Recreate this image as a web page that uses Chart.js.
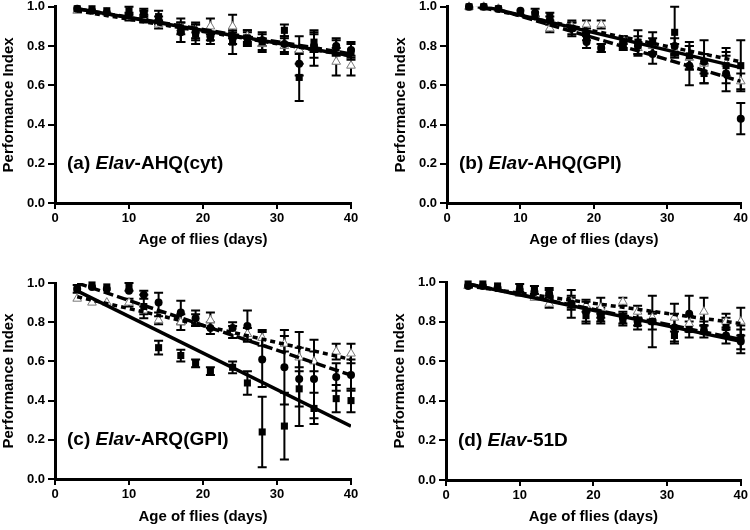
<!DOCTYPE html>
<html>
<head>
<meta charset="utf-8">
<script src="https://cdn.jsdelivr.net/npm/chart.js@4"></script>
<style>
  body { margin: 0; background: #fff; overflow: hidden; }
  #wrap { position: relative; width: 750px; height: 530px; }
  #wrap canvas { position: absolute; }
</style>
</head>
<body>
<div id="wrap">
  <canvas id="pa" width="375" height="264" style="left:0px;top:-4px"></canvas>
  <canvas id="pb" width="358" height="264" style="left:392px;top:-4px"></canvas>
  <canvas id="pc" width="375" height="266" style="left:0px;top:264px"></canvas>
  <canvas id="pd" width="359" height="266" style="left:391px;top:264px"></canvas>
</div>
<script>
// age of flies (days), same for all panels
var days = [3, 5, 7, 10, 12, 14, 17, 19, 21, 24, 26, 28, 31, 33, 35, 38, 40];

// (a) Elav-AHQ(cyt)
var sqA    = [0.99,0.99,0.98,0.98,0.96,0.95,0.88,0.86,0.84,0.82,0.84,0.82,0.88,0.64,0.82,0.79,0.77];
var sqErrA = [0,0,0,0.02,0.02,0.03,0.06,0.05,0.03,0.06,0.04,0.05,0.03,0.12,0.05,0.04,0.04];
var ciA    = [0.99,0.98,0.97,0.96,0.97,0.93,0.87,0.87,0.85,0.84,0.84,0.83,0.81,0.71,0.80,0.80,0.78];
var ciErrA = [0,0,0,0,0.02,0.02,0.05,0.04,0.02,0.03,0.03,0.03,0.04,0.06,0.06,0.04,0.04];
var trA    = [0.98,0.98,0.97,0.95,0.94,0.91,0.89,0.88,0.90,0.90,0.85,0.81,0.80,0.78,0.79,0.72,0.70];
var trErrA = [0,0,0,0.02,0.02,0.02,0.03,0.04,0.04,0.06,0.03,0.03,0.04,0.07,0.09,0.07,0.05];
var fitA   = [[0.99, 0.75], [0.99, 0.76], [0.98, 0.75]];   // solid, long dash, short dash at day 3 / 40

// (b) Elav-AHQ(GPI)
var sqB    = [1.00,1.00,0.99,0.97,0.96,0.95,0.89,0.85,0.79,0.81,0.82,0.82,0.87,0.75,0.66,0.70,0.70];
var sqErrB = [0,0,0,0,0,0.02,0.04,0.02,0.02,0.03,0.06,0.05,0.13,0.07,0.05,0.09,0.13];
var ciB    = [1.00,1.00,0.99,0.98,0.97,0.93,0.89,0.82,0.79,0.82,0.80,0.76,0.80,0.70,0.72,0.66,0.43];
var ciErrB = [0,0,0,0,0.02,0.02,0.03,0.03,0.02,0.03,0.05,0.05,0.04,0.10,0.11,0.09,0.08];
var trB    = [1.00,1.00,0.99,0.97,0.96,0.89,0.90,0.91,0.91,0.83,0.79,0.80,0.78,0.74,0.71,0.71,0.62];
var trErrB = [0,0,0,0,0,0.02,0.02,0.02,0.02,0.02,0.03,0.04,0.03,0.06,0.05,0.06,0.04];
var fitB   = [[1.02, 0.69], [1.03, 0.62], [1.01, 0.72]];

// (c) Elav-ARQ(GPI)
var sqC    = [0.97,0.99,0.98,0.98,0.88,0.67,0.63,0.59,0.55,0.57,0.49,0.24,0.27,0.46,0.36,0.41,0.40];
var sqErrC = [0.02,0,0,0.02,0.06,0.035,0.03,0.02,0.02,0.03,0.06,0.18,0.17,0.09,0.08,0.07,0.06];
var ciC    = [0.97,0.98,0.97,0.96,0.94,0.90,0.85,0.82,0.77,0.77,0.78,0.61,0.57,0.51,0.51,0.52,0.53];
var ciErrC = [0,0,0,0,0.02,0.05,0.06,0.04,0.03,0.03,0.08,0.14,0.19,0.24,0.20,0.07,0.08];
var trC    = [0.92,0.90,0.90,0.90,0.86,0.81,0.80,0.81,0.81,0.75,0.74,0.72,0.69,0.62,0.60,0.65,0.64];
var trErrC = [0,0,0,0.02,0.02,0.02,0.04,0.03,0.04,0.03,0.03,0.04,0.04,0.05,0.05,0.04,0.05];
var fitC   = [[0.96, 0.27], [1.00, 0.53], [0.93, 0.61]];

// (d) Elav-51D
var sqD    = [0.99,0.99,0.98,0.97,0.96,0.95,0.89,0.83,0.82,0.81,0.79,0.80,0.73,0.76,0.77,0.77,0.72];
var sqErrD = [0,0,0,0.02,0.02,0.02,0.03,0.04,0.02,0.03,0.03,0.04,0.04,0.04,0.03,0.05,0.06];
var ciD    = [0.98,0.98,0.97,0.96,0.95,0.94,0.89,0.85,0.83,0.82,0.80,0.80,0.77,0.84,0.75,0.73,0.70];
var ciErrD = [0,0,0,0,0,0.02,0.07,0.05,0.04,0.03,0.02,0.13,0.07,0.09,0.03,0.04,0.06];
var trD    = [0.98,0.98,0.97,0.94,0.92,0.89,0.90,0.88,0.87,0.90,0.85,0.82,0.82,0.79,0.85,0.80,0.80];
var trErrD = [0,0,0,0,0,0.02,0.03,0.03,0.05,0.02,0.03,0.03,0.07,0.04,0.07,0.04,0.07];
var fitD   = [[0.99, 0.70], [0.99, 0.71], [0.98, 0.79]];

var xTicks = [0, 10, 20, 30, 40];
var yTicks = [0, 0.2, 0.4, 0.6, 0.8, 1.0];

var FONT = 'Arial, "Liberation Sans", sans-serif';

// SEM bars behind the markers
var errorBars = {
  id: 'errorBars',
  beforeDatasetsDraw: function(chart) {
    var ctx = chart.ctx, xs = chart.scales.x, ys = chart.scales.y;
    ctx.save();
    ctx.strokeStyle = '#000';
    ctx.lineWidth = 2;
    chart.data.datasets.forEach(function(ds) {
      if (!ds.err) return;
      ds.data.forEach(function(p, j) {
        var e = ds.err[j];
        if (!e) return;
        var x = xs.getPixelForValue(p.x);
        var y1 = ys.getPixelForValue(p.y + e);
        var y2 = ys.getPixelForValue(p.y - e);
        ctx.beginPath();
        ctx.moveTo(x, y1); ctx.lineTo(x, y2);
        ctx.moveTo(x - 4.5, y1); ctx.lineTo(x + 4.5, y1);
        ctx.moveTo(x - 4.5, y2); ctx.lineTo(x + 4.5, y2);
        ctx.stroke();
      });
    });
    ctx.restore();
  }
};

// panel caption, "Elav" in italics
var panelLabel = {
  id: 'panelLabel',
  afterDatasetsDraw: function(chart, args, opts) {
    var ctx = chart.ctx;
    var x = chart.chartArea.left + 12;
    var y = chart.scales.y.getPixelForValue(0.2);
    ctx.save();
    ctx.fillStyle = '#000';
    ctx.textBaseline = 'middle';
    opts.parts.forEach(function(p) {
      ctx.font = p[1] + ' 19px ' + FONT;
      ctx.fillText(p[0], x, y);
      x += ctx.measureText(p[0]).width;
    });
    ctx.restore();
  }
};

function pts(vals) {
  return vals.map(function(v, i) { return { x: days[i], y: v }; });
}

function fitLine(f) {
  return [{ x: days[0], y: f[0] }, { x: days[days.length - 1], y: f[1] }];
}

function makePanel(id, parts, sq, sqErr, ci, ciErr, tr, trErr, fit, g) {
  new Chart(document.getElementById(id), {
    type: 'scatter',
    data: {
      datasets: [
        { type: 'line', data: fitLine(fit[0]), borderColor: '#000', borderWidth: 3.5, pointRadius: 0, fill: false },
        { type: 'line', data: fitLine(fit[1]), borderColor: '#000', borderWidth: 3.5, borderDash: [10, 4], pointRadius: 0, fill: false },
        { type: 'line', data: fitLine(fit[2]), borderColor: '#000', borderWidth: 3.5, borderDash: [5, 4], pointRadius: 0, fill: false },
        { data: pts(sq), err: sqErr, pointStyle: 'rect', pointRadius: 5, backgroundColor: '#000', borderColor: '#000', borderWidth: 0, clip: false },
        { data: pts(ci), err: ciErr, pointStyle: 'circle', pointRadius: 4, backgroundColor: '#000', borderColor: '#000', borderWidth: 0, clip: false },
        { data: pts(tr), err: trErr, pointStyle: 'triangle', pointRadius: 5, backgroundColor: '#fff', borderColor: '#777', borderWidth: 1, clip: false }
      ]
    },
    options: {
      responsive: false,
      animation: false,
      events: [],
      layout: { padding: { top: g.padTop, right: g.padRight, left: 0, bottom: 0 } },
      plugins: {
        legend: { display: false },
        tooltip: { enabled: false },
        panelLabel: { parts: parts }
      },
      scales: {
        x: {
          type: 'linear', min: 0, max: 40,
          afterBuildTicks: function(s) { s.ticks = xTicks.map(function(v) { return { value: v }; }); },
          ticks: { color: '#000', padding: 2, font: { family: FONT, size: 13, weight: 'bold' } },
          grid: { drawOnChartArea: false, drawTicks: true, tickLength: 6, color: '#000', lineWidth: 2 },
          border: { display: true, color: '#000', width: 3 },
          title: { display: true, text: 'Age of flies (days)', color: '#000',
                   font: { family: FONT, size: 15, weight: 'bold' }, padding: { top: 0, bottom: g.titlePad } },
          afterFit: function(s) { s.height = g.xH; }
        },
        y: {
          min: 0, max: 1,
          afterBuildTicks: function(s) { s.ticks = yTicks.map(function(v) { return { value: v }; }); },
          ticks: { color: '#000', padding: 3, font: { family: FONT, size: 13, weight: 'bold' },
                   callback: function(v) { return Number(v).toFixed(1); } },
          grid: { drawOnChartArea: false, drawTicks: true, tickLength: 7, color: '#000', lineWidth: 2 },
          border: { display: true, color: '#000', width: 3 },
          title: { display: true, text: 'Performance Index', color: '#000',
                   font: { family: FONT, size: 15, weight: 'bold' }, padding: { top: 0, bottom: 0 } },
          afterFit: function(s) { s.width = 55; }
        }
      }
    },
    plugins: [errorBars, panelLabel]
  });
}

makePanel('pa', [['(a) ', 'bold'], ['Elav', 'italic bold'], ['-AHQ(cyt)', 'bold']],
  sqA, sqErrA, ciA, ciErrA, trA, trErrA, fitA, { padTop: 10, padRight: 24, xH: 57, titlePad: 11 });
makePanel('pb', [['(b) ', 'bold'], ['Elav', 'italic bold'], ['-AHQ(GPI)', 'bold']],
  sqB, sqErrB, ciB, ciErrB, trB, trErrB, fitB, { padTop: 10, padRight: 8, xH: 57, titlePad: 11 });
makePanel('pc', [['(c) ', 'bold'], ['Elav', 'italic bold'], ['-ARQ(GPI)', 'bold']],
  sqC, sqErrC, ciC, ciErrC, trC, trErrC, fitC, { padTop: 19, padRight: 24, xH: 51, titlePad: 4 });
makePanel('pd', [['(d) ', 'bold'], ['Elav', 'italic bold'], ['-51D', 'bold']],
  sqD, sqErrD, ciD, ciErrD, trD, trErrD, fitD, { padTop: 18, padRight: 8, xH: 50, titlePad: 4 });
</script>
</body>
</html>
